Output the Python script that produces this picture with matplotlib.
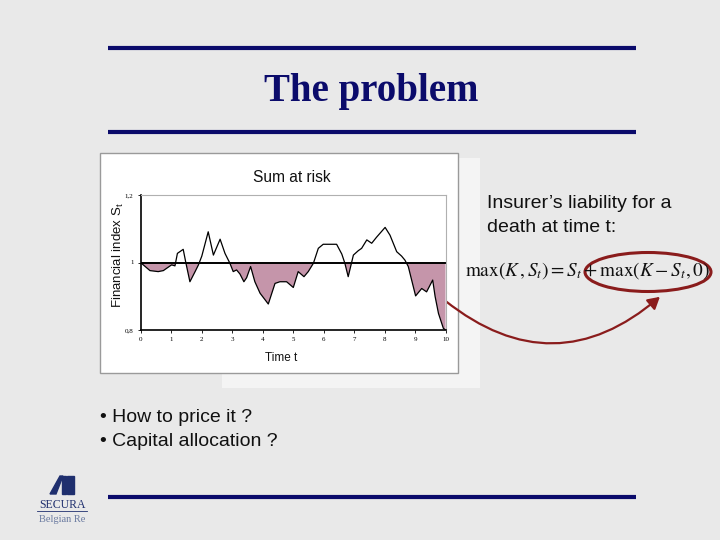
import numpy as np
import matplotlib
matplotlib.use("Agg")
import matplotlib.pyplot as plt
from matplotlib.patches import Ellipse, FancyArrowPatch, Rectangle

# ---- data ----
t_vals = [0.0, 0.31, 0.58, 0.75, 0.86, 1.02, 1.13, 1.21, 1.40, 1.49, 1.62, 1.79, 1.90,
          2.01, 2.22, 2.39, 2.61, 2.77, 2.93, 3.04, 3.15, 3.26, 3.39, 3.48, 3.61, 3.75,
          3.92, 4.19, 4.41, 4.57, 4.79, 5.01, 5.17, 5.36, 5.50, 5.67, 5.83, 5.99, 6.43,
          6.60, 6.70, 6.81, 6.98, 7.14, 7.25, 7.42, 7.58, 7.74, 8.02, 8.18, 8.40, 8.56,
          8.67, 8.78, 8.89, 9.02, 9.22, 9.38, 9.58, 9.66, 9.77, 9.93, 10.0]
s_vals = [1.000, 0.976, 0.973, 0.976, 0.983, 0.993, 0.990, 1.027, 1.039, 0.998, 0.943,
          0.973, 0.993, 1.019, 1.091, 1.022, 1.069, 1.027, 0.998, 0.973, 0.978, 0.966,
          0.943, 0.955, 0.988, 0.943, 0.909, 0.877, 0.938, 0.943, 0.943, 0.926, 0.973,
          0.958, 0.973, 0.998, 1.042, 1.054, 1.054, 1.025, 0.998, 0.958, 1.022, 1.035,
          1.042, 1.067, 1.057, 1.075, 1.104, 1.081, 1.032, 1.019, 1.007, 0.988, 0.948,
          0.901, 0.923, 0.913, 0.948, 0.899, 0.849, 0.805, 0.800]
strike_K = 1.0
x_ticks = [0, 1, 2, 3, 4, 5, 6, 7, 8, 9, 10]
y_ticks = [0.8, 1.0, 1.2]
y_ticklabels = ["0,8", "1", "1,2"]

navy = "#0b0b6b"
darkred = "#8a1c1c"
fillc = "#c595aa"

fig = plt.figure(figsize=(7.2, 5.4), dpi=100)
fig.patch.set_facecolor("#e9e9e9")

# background slide axes in pixel coords
bg = fig.add_axes([0, 0, 1, 1])
bg.set_xlim(0, 720)
bg.set_ylim(540, 0)
bg.axis("off")
bg.set_facecolor("none")

for yy in (48, 132, 497):
    bg.plot([108, 636], [yy, yy], color=navy, lw=3, solid_capstyle="butt")

bg.text(371, 91, "The problem", ha="center", va="center", color=navy,
        fontsize=28, fontweight="bold", family="Liberation Serif")

# chart frame (white panel)
bg.add_patch(Rectangle((458, 158), 22, 230, facecolor="#f4f4f4", edgecolor="none"))
bg.add_patch(Rectangle((222, 373), 258, 15, facecolor="#f4f4f4", edgecolor="none"))
bg.add_patch(Rectangle((100, 153), 358, 220, facecolor="white", edgecolor="#9a9a9a", lw=1))
bg.text(292, 178, "Sum at risk", ha="center", va="center", fontsize=11.2,
        family="Liberation Sans", color="#111111")
bg.text(281, 358, "Time t", ha="center", va="center", fontsize=8.5,
        family="Liberation Sans", color="#111111")
bg.text(118, 255, r"Financial index S$_\mathregular{t}$", ha="center", va="center",
        rotation=90, fontsize=9.5, family="Liberation Sans", color="#111111")

# right text
bg.text(487, 203, "Insurer\u2019s liability for a", ha="left", va="center",
        fontsize=14, family="Liberation Sans", color="#111111")
bg.text(487, 227, "death at time t:", ha="left", va="center",
        fontsize=14, family="Liberation Sans", color="#111111")
plt.rcParams["mathtext.fontset"] = "stix"
bg.text(465, 271, r"$\mathrm{max}(K\,,S_t)=S_t+\mathrm{max}(K-S_t,0)$",
        ha="left", va="center", fontsize=13.9, color="#111111")
bg.add_patch(Ellipse((648, 272), 126, 39, facecolor="none", edgecolor=darkred, lw=2.2))
arrow = FancyArrowPatch((443, 299), (662, 295), connectionstyle="arc3,rad=0.42",
                        arrowstyle="-|>,head_length=7,head_width=4", color=darkred,
                        lw=1.6, mutation_scale=1)
bg.add_patch(arrow)

# bullets
bg.text(100, 418, "\u2022 How to price it ?", ha="left", va="center", fontsize=14,
        family="Liberation Sans", color="#111111")
bg.text(100, 441, "\u2022 Capital allocation ?", ha="left", va="center", fontsize=14,
        family="Liberation Sans", color="#111111")

# logo
bg.fill([50, 60, 63, 56], [494, 476, 476, 494], color="#1f2f6e")
bg.fill([62, 66, 66, 62], [476, 476, 494, 494], color="#1f2f6e")
bg.fill([67, 74, 74, 67], [476, 476, 494, 494], color="#1f2f6e")
bg.text(62, 505, "SECURA", ha="center", va="center", fontsize=8.5,
        family="Liberation Serif", color="#1f2f6e")
bg.plot([37, 87], [511, 511], color="#1f2f6e", lw=0.6)
bg.text(62, 519, "Belgian Re", ha="center", va="center", fontsize=7.5,
        family="Liberation Serif", color="#6a7aa0")

# main chart axes
ax = fig.add_axes([140.5 / 720, 1 - 330 / 540, 305 / 720, 135 / 540])
t = np.array(t_vals)
s = np.array(s_vals)
ax.fill_between(t, s, strike_K, where=s <= strike_K, interpolate=True,
                color=fillc, lw=0)
ax.plot(t, s, color="black", lw=0.9)
ax.axhline(strike_K, color="black", lw=1.4)
ax.set_xlim(0, 10)
ax.set_ylim(0.8, 1.2)
ax.set_xticks(x_ticks)
ax.set_xticklabels([str(v) for v in x_ticks], fontsize=5, family="Liberation Serif")
ax.set_yticks(y_ticks)
ax.set_yticklabels(y_ticklabels, fontsize=5, family="Liberation Serif")
ax.tick_params(length=2, width=0.6, pad=3)
for side in ("top", "right"):
    ax.spines[side].set_color("#b0b0b0")
    ax.spines[side].set_linewidth(0.8)
for side in ("left", "bottom"):
    ax.spines[side].set_color("black")
    ax.spines[side].set_linewidth(1.2)

fig.savefig("out.png", dpi=100, facecolor=fig.get_facecolor())
